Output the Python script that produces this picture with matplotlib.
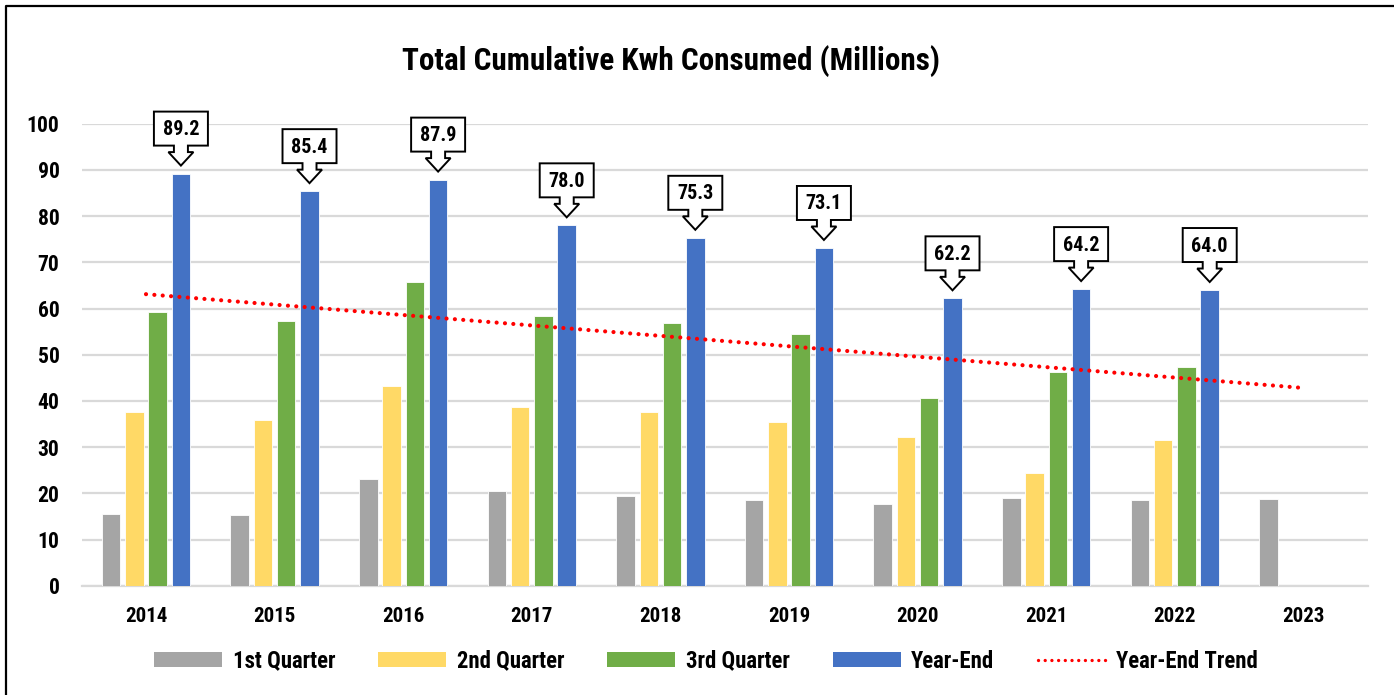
import numpy as np
import matplotlib
matplotlib.use("Agg")
import matplotlib.pyplot as plt
import matplotlib.transforms as mtransforms
from matplotlib.patches import Polygon, Patch
from matplotlib.lines import Line2D
from matplotlib import font_manager

# ---- data ----
years = ["2014", "2015", "2016", "2017", "2018", "2019", "2020", "2021", "2022", "2023"]
q1 = [15.5, 15.2, 23.2, 20.5, 19.4, 18.5, 17.7, 19.0, 18.5, 18.8]
q2 = [37.5, 35.9, 43.2, 38.6, 37.6, 35.4, 32.2, 24.4, 31.6, np.nan]
q3 = [59.2, 57.4, 65.8, 58.4, 56.8, 54.5, 40.6, 46.3, 47.3, np.nan]
year_end = [89.2, 85.4, 87.9, 78.0, 75.3, 73.1, 62.2, 64.2, 64.0, np.nan]
trend_years = ["2014", "2023"]
trend_values = [63.1, 42.8]
series_names = ["1st Quarter", "2nd Quarter", "3rd Quarter", "Year-End"]
title = "Total Cumulative Kwh Consumed (Millions)"
colors = ["#A5A5A5", "#FFD966", "#70AD47", "#4472C4"]

names = sorted({f.name for f in font_manager.fontManager.ttflist})
narrow = [n for n in names if ("Narrow" in n or "Condensed" in n)]
pref = ["Liberation Sans Narrow", "Roboto Condensed", "Open Sans Condensed"]
fam = next((p for p in pref if p in names), narrow[0] if narrow else "Liberation Sans")
plt.rcParams["font.family"] = [fam, "DejaVu Sans"]
plt.rcParams["font.weight"] = "bold"

W, H, DPI = 1394, 695, 100
fig = plt.figure(figsize=(W / DPI, H / DPI), dpi=DPI)
renderer = fig.canvas.get_renderer()


def fit_size(s, target_px):
    t = fig.text(0, 0, s, fontsize=10, fontweight="bold")
    w = t.get_window_extent(renderer).width
    t.remove()
    return 10 * target_px / w


title_fs = fit_size(title, 537)
ytick_fs = fit_size("100", 33)
xtick_fs = fit_size("2014", 42.5)
call_fs = fit_size("89.2", 36.5)
leg_fs = fit_size("1st Quarter", 103)

ax = fig.add_axes([81.7 / W, (H - 585.7) / H, 1286 / W, 462 / H])

x = np.arange(len(years))
step = 0.181
bw = 0.144
for i, (vals, c) in enumerate(zip([q1, q2, q3, year_end], colors)):
    ax.bar(x + (i - 1.5) * step, vals, width=bw, color=c, edgecolor="white",
           linewidth=0.6, zorder=3, label=series_names[i])

tx = [years.index(t) for t in trend_years]
ax.plot(tx, trend_values, color="#FF0000", lw=3.0, linestyle=(0, (0.01, 2.0)),
        dash_capstyle="round", zorder=4)

ax.set_xlim(-0.5, len(years) - 0.5)
ax.set_ylim(0, 100)
ax.set_yticks(np.arange(0, 101, 10))
ax.set_xticks(x)
ax.set_xticklabels(years)
ax.tick_params(axis="both", length=0)
ax.tick_params(axis="y", pad=16, labelsize=ytick_fs)
ax.tick_params(axis="x", pad=15, labelsize=xtick_fs)
for lab in ax.get_xticklabels() + ax.get_yticklabels():
    lab.set_fontweight("bold")
ax.grid(axis="y", color="#D9D9D9", lw=1.6, zorder=0)
ax.set_axisbelow(True)
for s in ["left", "right", "top"]:
    ax.spines[s].set_visible(False)
ax.spines["bottom"].set_color("#D9D9D9")
ax.spines["bottom"].set_linewidth(1.6)

# callouts (down-arrow callout shapes), in pixel offsets from bar top
bw2, tip, head_base, box_bot, box_top, stem_hw, head_hw = 27, 8, 21.5, 28, 62, 7, 12.5
verts = [(-bw2, box_top), (bw2, box_top), (bw2, box_bot), (stem_hw, box_bot),
         (stem_hw, head_base), (head_hw, head_base), (0, tip), (-head_hw, head_base),
         (-stem_hw, head_base), (-stem_hw, box_bot), (-bw2, box_bot)]
for xi, v in zip(x, year_end):
    if np.isnan(v):
        continue
    bx = xi + 1.5 * step
    trans = (mtransforms.Affine2D().scale(1 / DPI) + fig.dpi_scale_trans +
             mtransforms.ScaledTranslation(bx, v, ax.transData))
    poly = Polygon(verts, closed=True, facecolor="white", edgecolor="black",
                   lw=1.4, transform=trans, clip_on=False, zorder=6)
    ax.add_patch(poly)
    ax.annotate(f"{v:.1f}", xy=(bx, v), xytext=(0, (box_top + box_bot) / 2 - 1),
                textcoords="offset pixels", ha="center", va="center",
                fontsize=call_fs, fontweight="bold", zorder=7, annotation_clip=False)

fig.text(671.5 / W, 1 - 61 / H, title, ha="center", va="center",
         fontsize=title_fs, fontweight="bold")

handles = [Patch(facecolor=c, edgecolor="none") for c in colors]
handles.append(Line2D([], [], color="#FF0000", lw=2.4, linestyle=(0, (0.01, 2.0)),
                      dash_capstyle="round"))
labels = series_names + ["Year-End Trend"]
hl = 68 / (leg_fs * DPI / 72)
fig.legend(handles, labels, loc="center", bbox_to_anchor=(706 / W, 1 - 661 / H),
           ncol=5, frameon=False, handlelength=hl, handleheight=0.65,
           handletextpad=0.45, columnspacing=1.9,
           prop={"weight": "bold", "size": leg_fs, "family": [fam, "DejaVu Sans"]})

# outer border (top and left visible)
fig.add_artist(Line2D([5.7 / W, 5.7 / W, 1.0], [0.0, 1 - 6 / H, 1 - 6 / H],
                      transform=fig.transFigure, color="black", lw=1.6))

fig.savefig("out.png", dpi=DPI)
